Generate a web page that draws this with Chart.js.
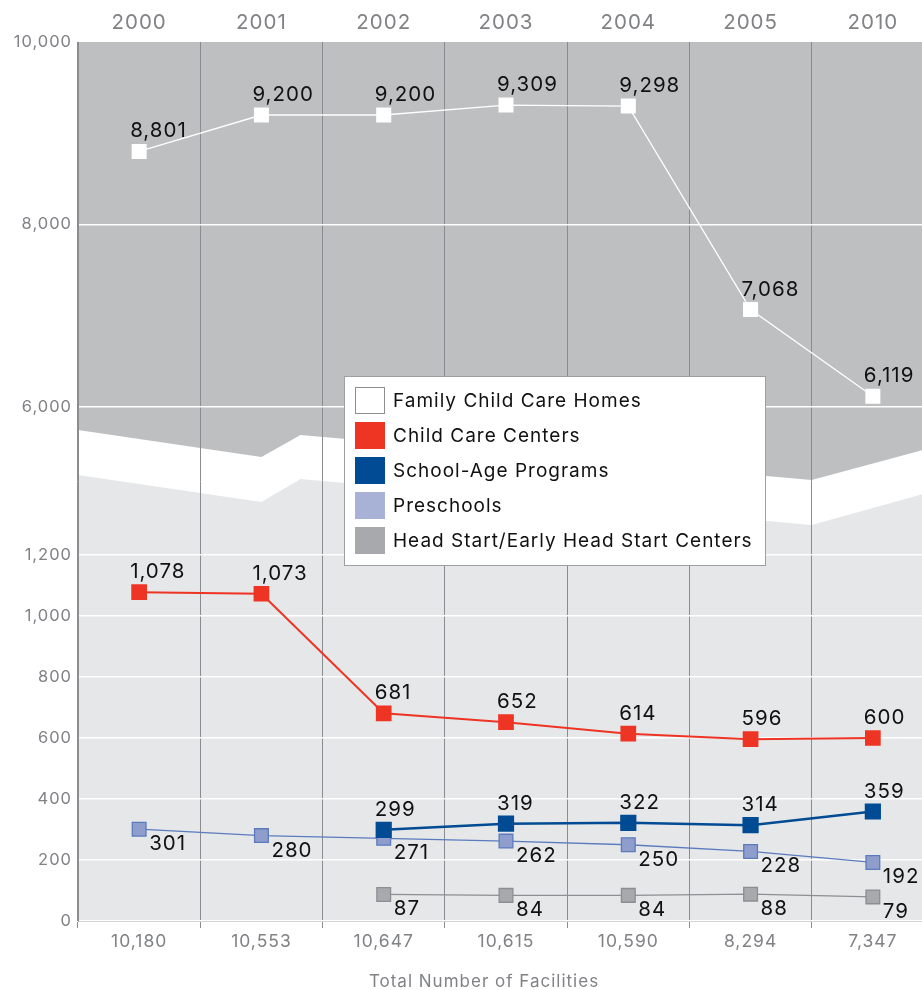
<!DOCTYPE html>
<html>
<head>
<meta charset="utf-8">
<script src="https://cdn.jsdelivr.net/npm/chart.js@4.4.1/dist/chart.umd.min.js"></script>
<style>
  html, body { margin: 0; padding: 0; background: #fff; overflow: hidden; }
  /* the last column runs a little past the right edge of the picture */
  #wrap { position: relative; width: 922px; height: 990px; overflow: hidden; }
  #wrap canvas { position: absolute; left: 0; top: 0; max-width: none !important; width: 934px !important; height: 990px !important; }
</style>
</head>
<body>
<div id="wrap"><canvas id="facilities" width="934" height="990"></canvas></div>
<script>
var years = ['2000', '2001', '2002', '2003', '2004', '2005', '2010'];
var totalFacilities = ['10,180', '10,553', '10,647', '10,615', '10,590', '8,294', '7,347'];

var familyHomes = [8801, 9200, 9200, 9309, 9298, 7068, 6119];
var careCenters = [1078, 1073, 681, 652, 614, 596, 600];
var schoolAge = [null, null, 299, 319, 322, 314, 359];
var preschools = [301, 280, 271, 262, 250, 228, 192];
var headStart = [null, null, 87, 84, 84, 88, 79];

var topTicks = [6000, 8000, 10000];
var bottomTicks = [0, 200, 400, 600, 800, 1000, 1200];

var GREY_TEXT = '#808285';
var FONT = 'Inter';

// the white zig-zag band between the two parts of the value axis
var breakPanels = {
    id: 'breakPanels',
    beforeDraw: function (chart) {
        var ctx = chart.ctx, a = chart.chartArea;
        var yt = chart.scales.yTop, yb = chart.scales.yBottom;
        var band = a.width / years.length;
        // [category units, upper axis value, lower axis value]
        var edge = [[0, 5748, 1462], [1.5, 5452, 1374], [1.82, 5693, 1449], [6, 5200, 1298], [7, 5562, 1410]];
        var i;
        // wide lettering for all text of the chart
        ctx.letterSpacing = '1px';
        ctx.save();
        ctx.fillStyle = '#bebfc1';
        ctx.beginPath();
        ctx.moveTo(a.left, a.top);
        ctx.lineTo(a.right, a.top);
        for (i = edge.length - 1; i >= 0; i--) {
            ctx.lineTo(a.left + edge[i][0] * band, yt.getPixelForValue(edge[i][1]));
        }
        ctx.closePath();
        ctx.fill();
        ctx.fillStyle = '#e6e7e8';
        ctx.beginPath();
        ctx.moveTo(a.left, a.bottom);
        ctx.lineTo(a.right, a.bottom);
        for (i = edge.length - 1; i >= 0; i--) {
            ctx.lineTo(a.left + edge[i][0] * band, yb.getPixelForValue(edge[i][2]));
        }
        ctx.closePath();
        ctx.fill();
        ctx.restore();
    }
};

var pointLabels = {
    id: 'pointLabels',
    afterDatasetsDraw: function (chart) {
        var ctx = chart.ctx;
        ctx.save();
        ctx.font = '400 20.5px ' + FONT;
        ctx.fillStyle = '#111';
        ctx.textAlign = 'left';
        ctx.textBaseline = 'alphabetic';
        chart.data.datasets.forEach(function (ds, i) {
            var meta = chart.getDatasetMeta(i);
            meta.data.forEach(function (pt, j) {
                var v = ds.data[j];
                if (v === null) return;
                var txt = v.toLocaleString('en-US');
                if (ds.labelBelow) {
                    ctx.fillText(txt, pt.x + 10, pt.y + 21);
                } else {
                    ctx.fillText(txt, pt.x - 9, pt.y - 14);
                }
            });
        });
        ctx.restore();
    }
};

var boxLegend = {
    id: 'boxLegend',
    afterDraw: function (chart) {
        var ctx = chart.ctx;
        var left = 344, top = 376, w = 422, h = 190;
        ctx.save();
        ctx.fillStyle = '#fff';
        ctx.fillRect(left, top, w, h);
        ctx.strokeStyle = '#9d9fa2';
        ctx.lineWidth = 1;
        ctx.strokeRect(left + 0.5, top + 0.5, w - 1, h - 1);
        ctx.font = '400 19px ' + FONT;
        ctx.textBaseline = 'middle';
        ctx.textAlign = 'left';
        chart.data.datasets.forEach(function (ds, i) {
            var y = top + 11 + i * 35;
            ctx.fillStyle = ds.legendColor;
            ctx.fillRect(left + 11, y, 30, 27);
            if (ds.legendBorder) {
                ctx.strokeStyle = ds.legendBorder;
                ctx.strokeRect(left + 11.5, y + 0.5, 29, 26);
            }
            ctx.fillStyle = '#111';
            ctx.fillText(ds.label, left + 49, y + 14);
        });
        // axis caption under the facility totals
        ctx.font = '400 17px ' + FONT;
        ctx.fillStyle = GREY_TEXT;
        ctx.textAlign = 'center';
        ctx.fillText('Total Number of Facilities', 484, 982);
        ctx.restore();
    }
};

function fixedTicks(list) {
    return function (scale) {
        scale.ticks = list.map(function (v) { return { value: v }; });
    };
}

function xAxisSize(h) {
    return function (s) {
        s.height = h;
        s.paddingLeft = 0;
        s.paddingRight = 0;
    };
}

var ctx = document.getElementById('facilities');
new Chart(ctx, {
    type: 'line',
    data: {
        labels: totalFacilities,
        datasets: [{
            label: 'Family Child Care Homes',
            data: familyHomes,
            yAxisID: 'yTop',
            borderColor: '#ffffff',
            borderWidth: 1.3,
            pointBackgroundColor: '#ffffff',
            legendColor: '#ffffff',
            legendBorder: '#8c8e91'
        }, {
            label: 'Child Care Centers',
            data: careCenters,
            yAxisID: 'yBottom',
            borderColor: '#ee3524',
            borderWidth: 2,
            pointBackgroundColor: '#ee3524',
            legendColor: '#ee3524'
        }, {
            label: 'School-Age Programs',
            data: schoolAge,
            yAxisID: 'yBottom',
            borderColor: '#004b93',
            borderWidth: 2.5,
            pointBackgroundColor: '#004b93',
            legendColor: '#004b93'
        }, {
            label: 'Preschools',
            data: preschools,
            yAxisID: 'yBottom',
            borderColor: '#5b7bbe',
            borderWidth: 1.3,
            pointBackgroundColor: '#8e9dcb',
            legendColor: '#a8b1d6',
            labelBelow: true
        }, {
            label: 'Head Start/Early Head Start Centers',
            data: headStart,
            yAxisID: 'yBottom',
            borderColor: '#8c8e91',
            borderWidth: 1.3,
            pointBackgroundColor: '#a7a9ac',
            legendColor: '#a7a9ac',
            labelBelow: true
        }]
    },
    options: {
        responsive: false,
        animation: false,
        events: [],
        layout: { padding: 0, autoPadding: false },
        elements: {
            line: { tension: 0, fill: false },
            point: { pointStyle: 'rect', radius: 9.7, borderWidth: 0 }
        },
        plugins: {
            legend: { display: false },
            tooltip: { enabled: false }
        },
        scales: {
            x: {
                type: 'category',
                position: 'bottom',
                offset: true,
                grid: { offset: true, color: '#8a8c8f', tickLength: 7 },
                border: { color: '#d1d3d4' },
                ticks: {
                    color: GREY_TEXT,
                    font: { family: FONT, size: 17.5 },
                    padding: 3,
                    maxRotation: 0,
                    autoSkip: false
                },
                afterFit: xAxisSize(69)
            },
            xTop: {
                type: 'category',
                position: 'top',
                labels: years,
                offset: true,
                grid: { display: false, drawTicks: false },
                border: { display: false },
                ticks: {
                    color: GREY_TEXT,
                    font: { family: FONT, size: 20.5 },
                    padding: 7,
                    maxRotation: 0,
                    autoSkip: false
                },
                afterFit: xAxisSize(42)
            },
            yBottom: {
                type: 'linear',
                position: 'left',
                stack: 'panels',
                stackWeight: 427,
                min: 0,
                max: 1400,
                afterBuildTicks: fixedTicks(bottomTicks),
                grid: { color: '#ffffff', lineWidth: 1.5, drawTicks: false },
                border: { color: '#8a8c8f' },
                ticks: { color: GREY_TEXT, font: { family: FONT, size: 16.5 }, padding: 6 },
                afterFit: function (s) { s.width = 78; }
            },
            yTop: {
                type: 'linear',
                position: 'left',
                stack: 'panels',
                stackWeight: 452,
                min: 5047,
                max: 10000,
                afterBuildTicks: fixedTicks(topTicks),
                grid: {
                    color: function (c) { return c.tick && c.tick.value === 10000 ? 'rgba(0,0,0,0)' : '#ffffff'; },
                    lineWidth: 1.5,
                    drawTicks: false
                },
                border: { color: '#8a8c8f' },
                ticks: { color: GREY_TEXT, font: { family: FONT, size: 16.5 }, padding: 6 },
                afterFit: function (s) { s.width = 78; }
            }
        }
    },
    plugins: [breakPanels, pointLabels, boxLegend]
});
</script>
</body>
</html>
